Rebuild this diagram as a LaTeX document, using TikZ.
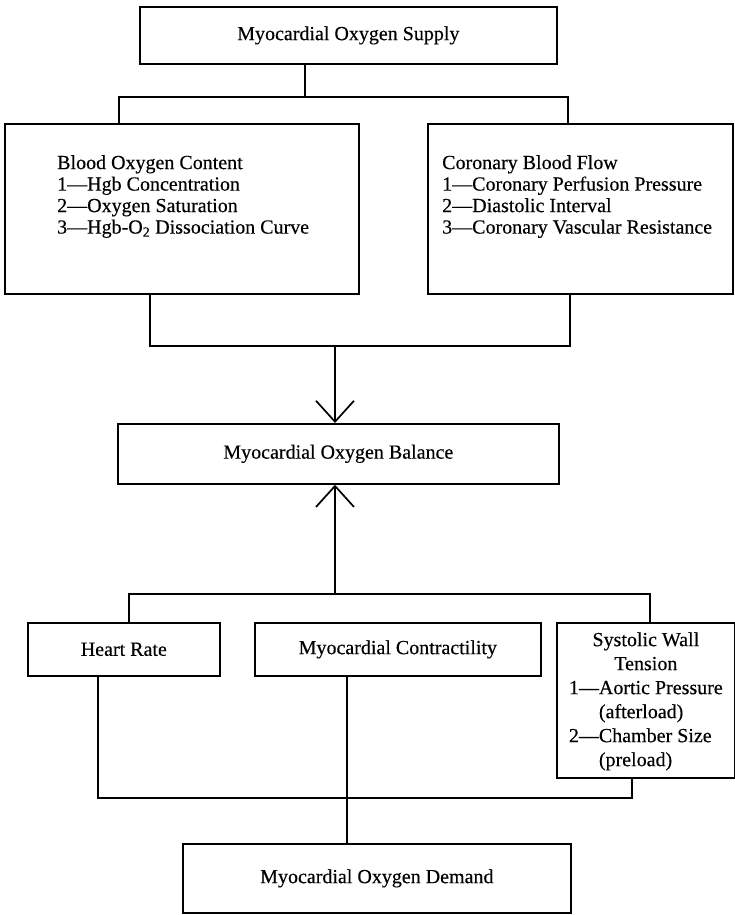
\documentclass[tikz,border=0pt]{standalone}
\usepackage{fontspec}
\setmainfont{Liberation Serif}[FakeBold=0.35]
\usetikzlibrary{arrows.meta}
\begin{document}
\begin{tikzpicture}[x=1pt,y=-1pt,
  box/.style={draw, line width=1.7pt, anchor=north west, inner sep=0pt, align=center},
  conn/.style={line width=1.7pt},
  barb/.style={-{Straight Barb[length=21pt,width=38pt,line width=1.7pt]}},
  txt/.style={inner sep=0pt, anchor=north west, align=left, font=\fontsize{20}{21.5}\selectfont},
  font=\fontsize{20}{24}\selectfont]
\useasboundingbox (0,0) rectangle (735,915);
% boxes
\node[box, minimum width=417pt, minimum height=57pt] (supply) at (139,6) {Myocardial Oxygen Supply};
\node[box, minimum width=354pt, minimum height=170pt] (blood) at (4,123) {};
\node[txt] (bloodtxt) at (57,155) {Blood Oxygen Content\\1—Hgb Concentration\\2—Oxygen Saturation\\3—Hgb-O\textsubscript{2} Dissociation Curve};
\node[box, minimum width=305pt, minimum height=170pt] (coronary) at (427,123) {};
\node[txt] (corotxt) at (442,155) {Coronary Blood Flow\\1—Coronary Perfusion Pressure\\2—Diastolic Interval\\3—Coronary Vascular Resistance};
\node[box, minimum width=441pt, minimum height=60pt] (balance) at (117,423) {Myocardial Oxygen Balance};
\node[box, minimum width=192pt, minimum height=53pt] (heart) at (27,622) {Heart Rate};
\node[box, minimum width=286pt, minimum height=53pt] (contr) at (254,622) {Myocardial Contractility};
\node[box, minimum width=178pt, minimum height=155pt] (systolic) at (556,622) {};
\node[inner sep=0pt, anchor=center] (systxt) at ([yshift=-1pt]systolic.center) {%
  \begin{tabular}{@{}l@{}l@{}}
  \multicolumn{2}{@{}c@{}}{Systolic Wall}\\
  \multicolumn{2}{@{}c@{}}{Tension}\\
  1—&Aortic Pressure\\
  &(afterload)\\
  2—&Chamber Size\\
  &(preload)
  \end{tabular}};
\node[box, minimum width=388pt, minimum height=69pt] (demand) at (182,843) {Myocardial Oxygen Demand};
% junctions
\coordinate (j0) at (305,97);
\coordinate (jl) at (119,97);
\coordinate (jr) at (568,97);
\coordinate (kl) at (150,346);
\coordinate (kr) at (570,346);
\coordinate (km) at (335,346);
\coordinate (ml) at (129,594);
\coordinate (mr) at (650,594);
\coordinate (mm) at (335,594);
\coordinate (nl) at (98,798);
\coordinate (nr) at (632,798);
\coordinate (nm) at (347,798);
% connectors
\draw[conn] (supply.south -| j0) -- (j0);
\draw[conn] (blood.north -| jl) -- (jl) -- (jr) -- (coronary.north -| jr);
\draw[conn] (blood.south -| kl) -- (kl) -- (kr) -- (coronary.south -| kr);
\draw[conn, barb] (km) -- (balance.north -| km);
\draw[conn, barb] (mm) -- (balance.south -| mm);
\draw[conn] (heart.north -| ml) -- (ml) -- (mr) -- (systolic.north -| mr);
\draw[conn] (heart.south -| nl) -- (nl) -- (nr) -- (systolic.south -| nr);
\draw[conn] (contr.south -| nm) -- (demand.north -| nm);
\end{tikzpicture}
\end{document}
